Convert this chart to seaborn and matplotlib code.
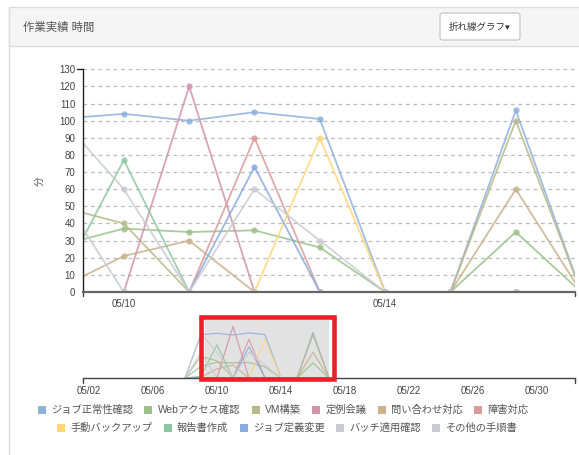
import pandas as pd
import matplotlib
matplotlib.use('Agg')
import matplotlib.pyplot as plt
import matplotlib.dates as mdates
import seaborn as sns
from matplotlib.lines import Line2D
from matplotlib.patches import Rectangle, FancyBboxPatch

sns.set_style('white')
plt.rcParams['font.family'] = ['Liberation Sans', 'Noto Sans CJK JP', 'DejaVu Sans']

# data (minutes per day)
dates = pd.date_range('2016-05-08', periods=10, freq='D')
tasks = ['ジョブ正常性確認', 'Webアクセス確認', 'VM構築', '定例会議', '問い合わせ対応',
         '障害対応', '手動バックアップ', '報告書作成', 'ジョブ定義変更', 'バッチ適用確認',
         'その他の手順書']
job_check = [0, 101, 104, 100, 105, 101, 0, 0, 106, 0]
web_check = [0, 27, 37, 35, 36, 26, 0, 0, 35, 0]
vm_build = [0, 50, 40, 0, 0, 0, 0, 0, 100, 0]
meeting = [0, 0, 0, 120, 0, 0, 0, 0, 0, 0]
inquiry = [0, 2, 21, 30, 0, 0, 0, 0, 60, 0]
incident = [0, 0, 0, 0, 90, 0, 0, 0, 0, 0]
backup = [0, 0, 0, 0, 0, 90, 0, 0, 0, 0]
report = [0, 4, 77, 0, 0, 0, 0, 0, 0, 0]
job_def = [0, 0, 0, 0, 73, 0, 0, 0, 0, 0]
batch = [0, 103, 60, 0, 60, 30, 0, 0, 0, 0]
other = [0, 59, 0, 0, 0, 0, 0, 0, 0, 0]
colors = ['#8fb1dc', '#9bc18b', '#b9b98a', '#d393ab', '#c9b18d', '#d99a9a',
          '#ffd77a', '#8ec7a0', '#8aacdf', '#c9ccd3', '#c9ccd3']

series = [job_check, web_check, vm_build, meeting, inquiry, incident,
          backup, report, job_def, batch, other]
rows = []
for name, vals in zip(tasks, series):
    for d, v in zip(dates, vals):
        rows.append({'date': d, 'minutes': v, 'task': name})
df = pd.DataFrame(rows)

W, H = 579, 455
fx = lambda px: px / W
fy = lambda py: 1 - py / H

fig = plt.figure(figsize=(W / 100, H / 100), dpi=100)

# card + header
fig.add_artist(Rectangle((fx(8.5), -0.01), 1, fy(7.5) + 0.01, transform=fig.transFigure,
                         facecolor='white', edgecolor='#dddddd', lw=1, zorder=0))
fig.add_artist(Rectangle((fx(8.5), fy(45.5)), 1, 38 / H, transform=fig.transFigure,
                         facecolor='#f5f5f5', edgecolor='#dddddd', lw=1, zorder=0))
fig.add_artist(FancyBboxPatch((fx(440), fy(40)), 80 / W, 27 / H, transform=fig.transFigure,
                              boxstyle='round,pad=0,rounding_size=0.006',
                              facecolor='white', edgecolor='#cccccc', lw=1, zorder=1))
fig.text(fx(23), fy(27), '作業実績 時間', ha='left', va='center', fontsize=8.2, color='#555555')
fig.text(fx(480), fy(27), '折れ線グラフ▾', ha='center', va='center', fontsize=6.8, color='#333333')

# main chart
ax = fig.add_axes([fx(83), fy(292), (575 - 83) / W, (292 - 69.3) / H])
ax.patch.set_alpha(0)
sns.lineplot(data=df, x='date', y='minutes', hue='task', hue_order=tasks, palette=colors,
             marker='o', markersize=4.5, markeredgewidth=0, linewidth=1.3, alpha=0.85,
             errorbar=None, legend=False, ax=ax)
ax.set_xlim(pd.Timestamp('2016-05-09 09:00'), pd.Timestamp('2016-05-16 21:45'))
ax.set_ylim(0, 130)
ax.set_yticks(range(0, 131, 10))
ax.xaxis.set_major_locator(mdates.DayLocator(bymonthday=[10, 14]))
ax.xaxis.set_major_formatter(mdates.DateFormatter('%m/%d'))
ax.tick_params(axis='y', length=0, pad=5.5, labelsize=7, labelcolor='#444444')
ax.tick_params(axis='x', length=0, pad=5, labelsize=7, labelcolor='#444444')
ax.set_xlabel('')
ax.set_ylabel('分', fontsize=7, color='#555555')
ax.yaxis.set_label_coords(-0.077, 0.5)
ax.yaxis.grid(True, linestyle=(0, (3, 3)), color='#bbbbbb', linewidth=0.9)
ax.xaxis.grid(False)
for s in ['top', 'right']:
    ax.spines[s].set_visible(False)
ax.spines['left'].set_color('#222222')
ax.spines['left'].set_linewidth(1)
ax.spines['bottom'].set_color('#666666')
ax.spines['bottom'].set_linewidth(1.6)
ax.plot([-0.012, 0], [1, 1], transform=ax.transAxes, color='#222222', lw=1, clip_on=False)
for xe in [0, 1]:
    ax.plot([xe, xe], [0, -0.02], transform=ax.transAxes, color='#444444', lw=1, clip_on=False)

# overview (sub chart)
ov = fig.add_axes([fx(83), fy(378), (575 - 83) / W, (378 - 320) / H])
ov.patch.set_alpha(0)
ov.axvspan(pd.Timestamp('2016-05-09 06:00'), pd.Timestamp('2016-05-16 22:00'),
           color='#e2e2e2', zorder=0)
sns.lineplot(data=df, x='date', y='minutes', hue='task', hue_order=tasks, palette=colors,
             linewidth=0.9, alpha=0.85, errorbar=None, legend=False, ax=ov)
ov.set_xlim(pd.Timestamp('2016-05-01 15:00'), pd.Timestamp('2016-06-01 09:00'))
ov.set_ylim(0, 135)
ov.set_yticks([])
ov.xaxis.set_major_locator(mdates.DayLocator(bymonthday=[2, 6, 10, 14, 18, 22, 26, 30]))
ov.xaxis.set_major_formatter(mdates.DateFormatter('%m/%d'))
ov.tick_params(axis='x', length=0, pad=6, labelsize=7, labelcolor='#444444')
ov.set_xlabel('')
ov.set_ylabel('')
for s in ['top', 'right', 'left']:
    ov.spines[s].set_visible(False)
ov.spines['bottom'].set_color('#444444')
ov.spines['bottom'].set_linewidth(1)
for xe in [0, 1]:
    ov.plot([xe, xe], [0, -0.09], transform=ov.transAxes, color='#444444', lw=1, clip_on=False)

# red highlight box
fig.add_artist(Rectangle((fx(200.8), fy(379.2)), (333.5 - 200.8) / W, (379.2 - 316.5) / H,
                         transform=fig.transFigure, facecolor='none',
                         edgecolor='#e8202a', lw=3.3, zorder=5))

# legend, two centered rows
handles = [Line2D([], [], linestyle='none', marker='s', markersize=5.5,
                  markerfacecolor=c, markeredgewidth=0) for c in colors]
leg_kw = dict(loc='center', frameon=False, fontsize=7.4, handlelength=0.8,
              handletextpad=0.5, columnspacing=1.1, labelcolor='#555555',
              borderaxespad=0, borderpad=0)
fig.legend(handles[:6], tasks[:6], bbox_to_anchor=(0.489, fy(410)), ncol=6, **leg_kw)
fig.legend(handles[6:], tasks[6:], bbox_to_anchor=(0.496, fy(428)), ncol=5, **leg_kw)

fig.savefig('out.png', dpi=100)
